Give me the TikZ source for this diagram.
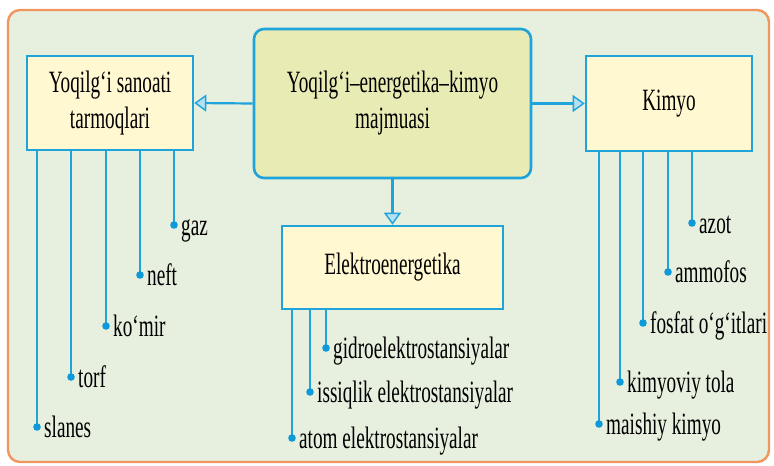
\documentclass[tikz,border=0pt]{standalone}
\usepackage{fontspec}
\setmainfont[FakeStretch=0.62]{Liberation Serif}
\usetikzlibrary{arrows.meta}

\definecolor{ramka}{HTML}{F0975F}
\definecolor{fon}{HTML}{E7EFDE}
\definecolor{chiziq}{HTML}{1EA3DA}
\definecolor{nuqta}{HTML}{0E9AD8}
\definecolor{sariq}{HTML}{FFF8D0}
\definecolor{yashil}{HTML}{E8ECB4}
\definecolor{uchi}{HTML}{B5E0F3}

\begin{document}
\begin{tikzpicture}[x=1pt, y=-1pt,
  box/.style={draw=chiziq, line width=2.6pt, fill=sariq, align=center, inner sep=0pt,
    font=\fontsize{31}{36}\selectfont},
  arrow/.style={draw=chiziq, line width=2.2pt,
    -{Triangle[length=12pt, width=17pt, line width=1.4pt, fill=uchi]}},
  branch/.style={draw=chiziq, line width=2.2pt},
  leaf/.style={anchor=base west, inner sep=0pt, xshift=7pt, yshift=-10.5pt,
    font=\fontsize{31}{34}\selectfont}]
\useasboundingbox (0,0) rectangle (774,466);
\draw[ramka, fill=fon, line width=2.4pt, rounded corners=12pt] (8,10) rectangle (769,462);

\node[box, minimum width=277pt, minimum height=149pt, fill=yashil, rounded corners=10pt] (markaz) at (392.5,103.5)
  {Yoqilg‘i–energetika–kimyo\\majmuasi};
\node[box, minimum width=166pt, minimum height=94pt] (yoqilgi) at (110,103) {Yoqilg‘i sanoati\\tarmoqlari};
\node[box, minimum width=166pt, minimum height=95pt] (kimyo) at (669,103.5) {Kimyo};
\node[box, minimum width=221pt, minimum height=83pt] (elektro) at (392.5,267.5) {Elektroenergetika};

\draw[arrow] (markaz.west) -- (yoqilgi.east);
\draw[arrow] (markaz.east) -- (kimyo.west);
\draw[arrow] (markaz.south) -- (elektro.north);

\foreach \n/\x/\y/\t in {gaz/174/225/gaz, neft/140/275/neft, komir/106/326/ko‘mir,
    torf/71/377/torf, slanes/37/427/slanes} {
  \coordinate (\n-dot) at (\x,\y);
  \draw[branch] (yoqilgi.south -| \n-dot) -- (\n-dot);
  \fill[nuqta] (\n-dot) circle (3.8pt);
  \node[leaf] (\n) at (\n-dot) {\t};
}
\foreach \n/\x/\y/\t in {gidro/326/348/gidroelektrostansiyalar,
    issiqlik/310/392/issiqlik elektrostansiyalar, atom/292/438/atom elektrostansiyalar} {
  \coordinate (\n-dot) at (\x,\y);
  \draw[branch] (elektro.south -| \n-dot) -- (\n-dot);
  \fill[nuqta] (\n-dot) circle (3.8pt);
  \node[leaf] (\n) at (\n-dot) {\t};
}
\foreach \n/\x/\y/\t in {azot/692/223/azot, ammofos/668/272/ammofos, fosfat/643/323/fosfat o‘g‘itlari,
    tola/620/382/kimyoviy tola, maishiy/599/424/maishiy kimyo} {
  \coordinate (\n-dot) at (\x,\y);
  \draw[branch] (kimyo.south -| \n-dot) -- (\n-dot);
  \fill[nuqta] (\n-dot) circle (3.8pt);
  \node[leaf] (\n) at (\n-dot) {\t};
}
\end{tikzpicture}
\end{document}
